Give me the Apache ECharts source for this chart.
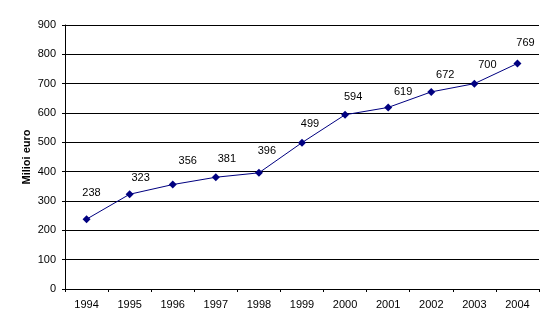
<!DOCTYPE html>
<html>
<head>
<meta charset="utf-8">
<script src="https://cdn.jsdelivr.net/npm/echarts@6/dist/echarts.min.js"></script>
<style>
html, body { margin: 0; padding: 0; background: #fff; }
#chart { width: 555px; height: 331px; }
</style>
</head>
<body>
<div id="chart"></div>
<script>
// Years on the horizontal axis
const years = ['1994', '1995', '1996', '1997', '1998', '1999', '2000', '2001', '2002', '2003', '2004'];
// Amounts in millions of euro
const values = [238, 323, 356, 381, 396, 499, 594, 619, 672, 700, 769];
// Value axis range and step
const yMin = 0, yMax = 900, yStep = 100;
// Hand-placed nudges for each value label, relative to its marker [dx, dy]
const labelNudge = [[5, -26], [11, -16], [15, -24], [11, -18], [8, -22], [8, -19], [8, -18], [15, -15], [14, -17], [13, -19], [8, -20]];

const font = 'Liberation Sans, Arial, sans-serif';
const chart = echarts.init(document.getElementById('chart'), null, { renderer: 'canvas' });

chart.setOption({
  animation: false,
  backgroundColor: '#ffffff',
  grid: { left: 65, right: 16, top: 25, bottom: 42, containLabel: false },
  xAxis: {
    type: 'category',
    data: years,
    boundaryGap: true,
    axisLine: { lineStyle: { color: '#000', width: 1 } },
    axisTick: { show: true, length: 3, lineStyle: { color: '#000' } },
    axisLabel: { color: '#000', fontFamily: font, fontSize: 11, margin: 10 },
    splitLine: { show: false }
  },
  yAxis: {
    type: 'value',
    min: yMin, max: yMax, interval: yStep,
    name: 'Milioi euro',
    nameLocation: 'middle',
    nameGap: 33,
    nameRotate: 90,
    nameMoveOverlap: false,
    nameTextStyle: { color: '#000', fontFamily: font, fontSize: 11, fontWeight: 'bold' },
    axisLine: { show: true, lineStyle: { color: '#000', width: 1 } },
    axisTick: { show: true, length: 3, lineStyle: { color: '#000' } },
    axisLabel: { color: '#000', fontFamily: font, fontSize: 11, margin: 9 },
    splitLine: { show: true, lineStyle: { color: '#000', width: 1 } }
  },
  series: [{
    type: 'line',
    data: values.map((v, i) => ({
      value: v,
      label: { offset: labelNudge[i] }
    })),
    symbol: 'diamond',
    symbolSize: 8,
    lineStyle: { color: '#000080', width: 1 },
    itemStyle: { color: '#000080' },
    label: {
      show: true,
      position: 'inside',
      color: '#000',
      fontFamily: font,
      fontSize: 11
    }
  }]
});
</script>
</body>
</html>
